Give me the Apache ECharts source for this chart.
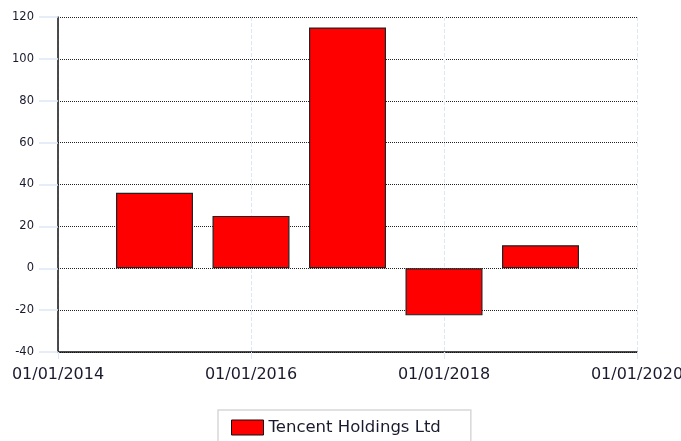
<!DOCTYPE html>
<html><head><meta charset="utf-8">
<script src="https://cdn.jsdelivr.net/npm/echarts@6/dist/echarts.min.js"></script>
<style>html,body{margin:0;padding:0;background:#fff}#c{width:681px;height:441px}</style>
</head><body><div id="c"></div>
<script>
const seriesName = 'Tencent Holdings Ltd';
const dates = ['01/01/2015','01/01/2016','01/01/2017','01/01/2018','01/01/2019'];
const values = [36, 25, 115, -22.5, 11];
const yTicks = [-40, -20, 0, 20, 40, 60, 80, 100, 120];
const xTickYears = [2014, 2016, 2018, 2020];

function toYear(d){ const p = d.split('/'); return +p[2] + ((+p[1]-1)*30.4 + (+p[0]-1))/365.25; }
const data = dates.map((d,i)=>[toYear(d), values[i]]);

const chart = echarts.init(document.getElementById('c'));
chart.setOption({
  animation:false,
  grid:{left:58,right:44,top:17,bottom:89,containLabel:false,outerBoundsMode:'none'},
  legend:{
    show:true, top:410, left:218,
    padding:[9,30,10,13],
    borderColor:'#d8d8d8', borderWidth:1.5, borderRadius:0,
    itemWidth:32, itemHeight:15, itemGap:6,
    textStyle:{fontFamily:'DejaVu Sans',fontSize:16.5,color:'#1a1a2e',padding:[0,0,0,0]},
    data:[{name:seriesName, icon:'rect', itemStyle:{color:'#ff0000',borderColor:'#111',borderWidth:1}}]
  },
  xAxis:{
    type:'value', min:xTickYears[0], max:xTickYears[xTickYears.length-1], interval:2,
    axisLine:{show:true,onZero:false,lineStyle:{color:'#111',width:1.5}},
    axisTick:{show:true,length:7,lineStyle:{color:'#dce8f6'}},
    splitLine:{show:true,lineStyle:{color:'#dce8f6',type:'dashed',width:1}},
    axisLabel:{fontFamily:'DejaVu Sans',fontSize:16,color:'#1a1a2e',margin:15,
      formatter:v=>'01/01/'+Math.round(v)}
  },
  yAxis:{
    type:'value', min:yTicks[0], max:yTicks[yTicks.length-1], interval:20,
    axisLine:{show:true,onZero:false,lineStyle:{color:'#111',width:1.5}},
    axisTick:{show:true,length:19,lineStyle:{color:'#dce8f6',width:1.5}},
    splitLine:{show:true,lineStyle:{color:'#222',type:[1,1],width:1}},
    axisLabel:{fontFamily:'DejaVu Sans',fontSize:11.5,color:'#1a1a2e',margin:24}
  },
  series:[{
    name:seriesName, type:'bar', data:data, barWidth:77,
    itemStyle:{color:'#ff0000',borderColor:'#222',borderWidth:1.2}
  }]
});
</script></body></html>
